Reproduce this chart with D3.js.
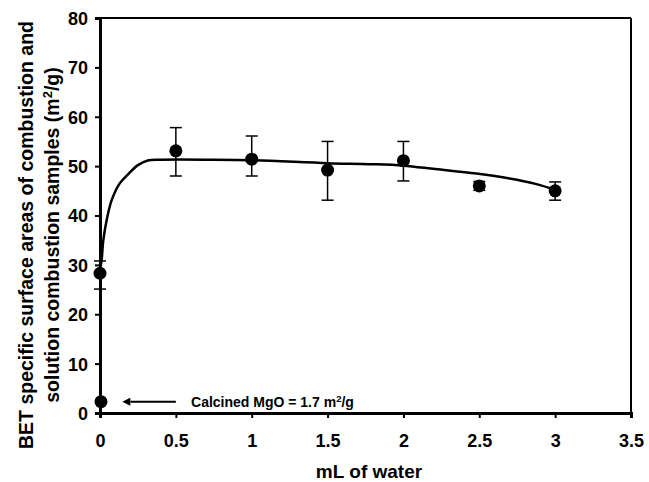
<!DOCTYPE html>
<html><head><meta charset="utf-8">
<script src="https://cdn.jsdelivr.net/npm/d3@7"></script>
<style>body{margin:0;background:#fff}svg{display:block}text{font-family:"Liberation Sans",Arial,sans-serif;font-weight:bold}</style>
</head><body><svg id="c" width="649" height="482"></svg>
<script>
const water = [0, 0.5, 1, 1.5, 2, 2.5, 3];
const area = [28.3, 53.1, 51.4, 49.2, 51.1, 46.0, 45.0];
const errHi = [30.8, 57.8, 56.1, 55.0, 55.0, 46.9, 46.8];
const errLo = [25.1, 48.0, 48.0, 43.1, 47.0, 45.1, 43.1];
const calcined = {x: 0, y: 2.3};
const fitX = [0.005, 0.011, 0.022, 0.044, 0.077, 0.13, 0.19, 0.25, 0.32, 0.41, 0.7, 1.0, 1.5, 1.78, 2.0, 2.21, 2.48, 2.7, 2.87, 3.0];
const fitY = [29.8, 31.0, 35.0, 39.1, 43.1, 46.5, 48.5, 50.2, 51.2, 51.3, 51.3, 51.2, 50.6, 50.4, 50.1, 49.4, 48.5, 47.5, 46.4, 45.2];
const xTicks = [0, 0.5, 1, 1.5, 2, 2.5, 3, 3.5];
const yTicks = [0, 10, 20, 30, 40, 50, 60, 70, 80];

const svg = d3.select("#c");
const m = {l: 100, r: 631, t: 18, b: 413};
const x = d3.scaleLinear().domain([0, 3.5]).range([m.l, m.r]);
const y = d3.scaleLinear().domain([0, 80]).range([m.b, m.t]);

// frame top/right
svg.append("line").attr("x1", m.l).attr("x2", m.r).attr("y1", m.t).attr("y2", m.t).attr("stroke", "#000").attr("stroke-width", 2);
svg.append("line").attr("x1", m.r).attr("x2", m.r).attr("y1", m.t).attr("y2", m.b).attr("stroke", "#000").attr("stroke-width", 2);

const xa = svg.append("g").attr("transform", `translate(0,${m.b})`)
  .call(d3.axisBottom(x).tickValues(xTicks).tickSize(5).tickPadding(16).tickFormat(d => d3.format("")(d)));
const ya = svg.append("g").attr("transform", `translate(${m.l},0)`)
  .call(d3.axisLeft(y).tickValues(yTicks).tickSize(5).tickPadding(7));
[xa, ya].forEach(a => {
  a.select(".domain").attr("stroke", "#000").attr("stroke-width", 3);
  a.selectAll(".tick line").attr("stroke", "#000").attr("stroke-width", 2);
  a.selectAll("text").attr("fill", "#000").style("font-size", "18px").style("font-family", '"Liberation Sans",Arial,sans-serif').style("font-weight", "bold");
});
ya.selectAll("text").attr("dy", "0.36em");

// fit curve
const fit = fitX.map((d, i) => [d, fitY[i]]);
svg.append("path").datum(fit)
  .attr("d", d3.line().x(d => x(d[0])).y(d => y(d[1])).curve(d3.curveCatmullRom.alpha(0.5)))
  .attr("fill", "none").attr("stroke", "#000").attr("stroke-width", 2.5);

// error bars
const pts = water.map((d, i) => ({x: d, y: area[i], hi: errHi[i], lo: errLo[i]}));
const eb = svg.append("g").attr("stroke", "#000").attr("stroke-width", 1.5);
pts.forEach(p => {
  eb.append("line").attr("x1", x(p.x)).attr("x2", x(p.x)).attr("y1", y(p.hi)).attr("y2", y(p.lo));
  [p.hi, p.lo].forEach(v => eb.append("line").attr("x1", x(p.x) - 6).attr("x2", x(p.x) + 6).attr("y1", y(v)).attr("y2", y(v)));
});
svg.append("g").selectAll("circle").data(pts).join("circle")
  .attr("cx", d => x(d.x)).attr("cy", d => y(d.y)).attr("r", 6.5).attr("fill", "#000");
svg.append("circle").attr("cx", x(calcined.x) + 1).attr("cy", y(calcined.y)).attr("r", 6.5).attr("fill", "#000");

// annotation arrow
svg.append("defs").append("marker").attr("id", "ah").attr("viewBox", "0 0 10 10").attr("refX", 0).attr("refY", 5)
  .attr("markerWidth", 5).attr("markerHeight", 4).attr("orient", "auto-start-reverse").attr("markerUnits", "strokeWidth")
  .append("path").attr("d", "M0,0 L10,5 L0,10 z").attr("fill", "#000");
svg.append("line").attr("x1", x(0.5)).attr("x2", x(0.2)).attr("y1", y(calcined.y)).attr("y2", y(calcined.y))
  .attr("stroke", "#000").attr("stroke-width", 2).attr("marker-end", "url(#ah)");
const ann = svg.append("text").attr("x", x(0.6)).attr("y", y(calcined.y) + 5).style("font-size", "14px").attr("fill", "#000");
ann.append("tspan").text("Calcined MgO = 1.7 m");
ann.append("tspan").text("2").attr("dy", -5).style("font-size", "9.5px");
ann.append("tspan").text("/g").attr("dy", 5);

// axis titles
svg.append("text").attr("x", 369).attr("y", 478).attr("text-anchor", "middle").style("font-size", "19px").text("mL of water");
const yt = svg.append("text").attr("transform", `translate(33,235) rotate(-90)`).attr("text-anchor", "middle").style("font-size", "19.5px");
yt.append("tspan").attr("x", 0).attr("dy", 0).text("BET specific surface areas of combustion and");
const l2 = yt.append("tspan").attr("x", 0).attr("dy", 26);
l2.append("tspan").text("solution combustion samples (m");
l2.append("tspan").text("2").attr("dy", -7).style("font-size", "13px");
l2.append("tspan").text("/g)").attr("dy", 7);
</script></body></html>
